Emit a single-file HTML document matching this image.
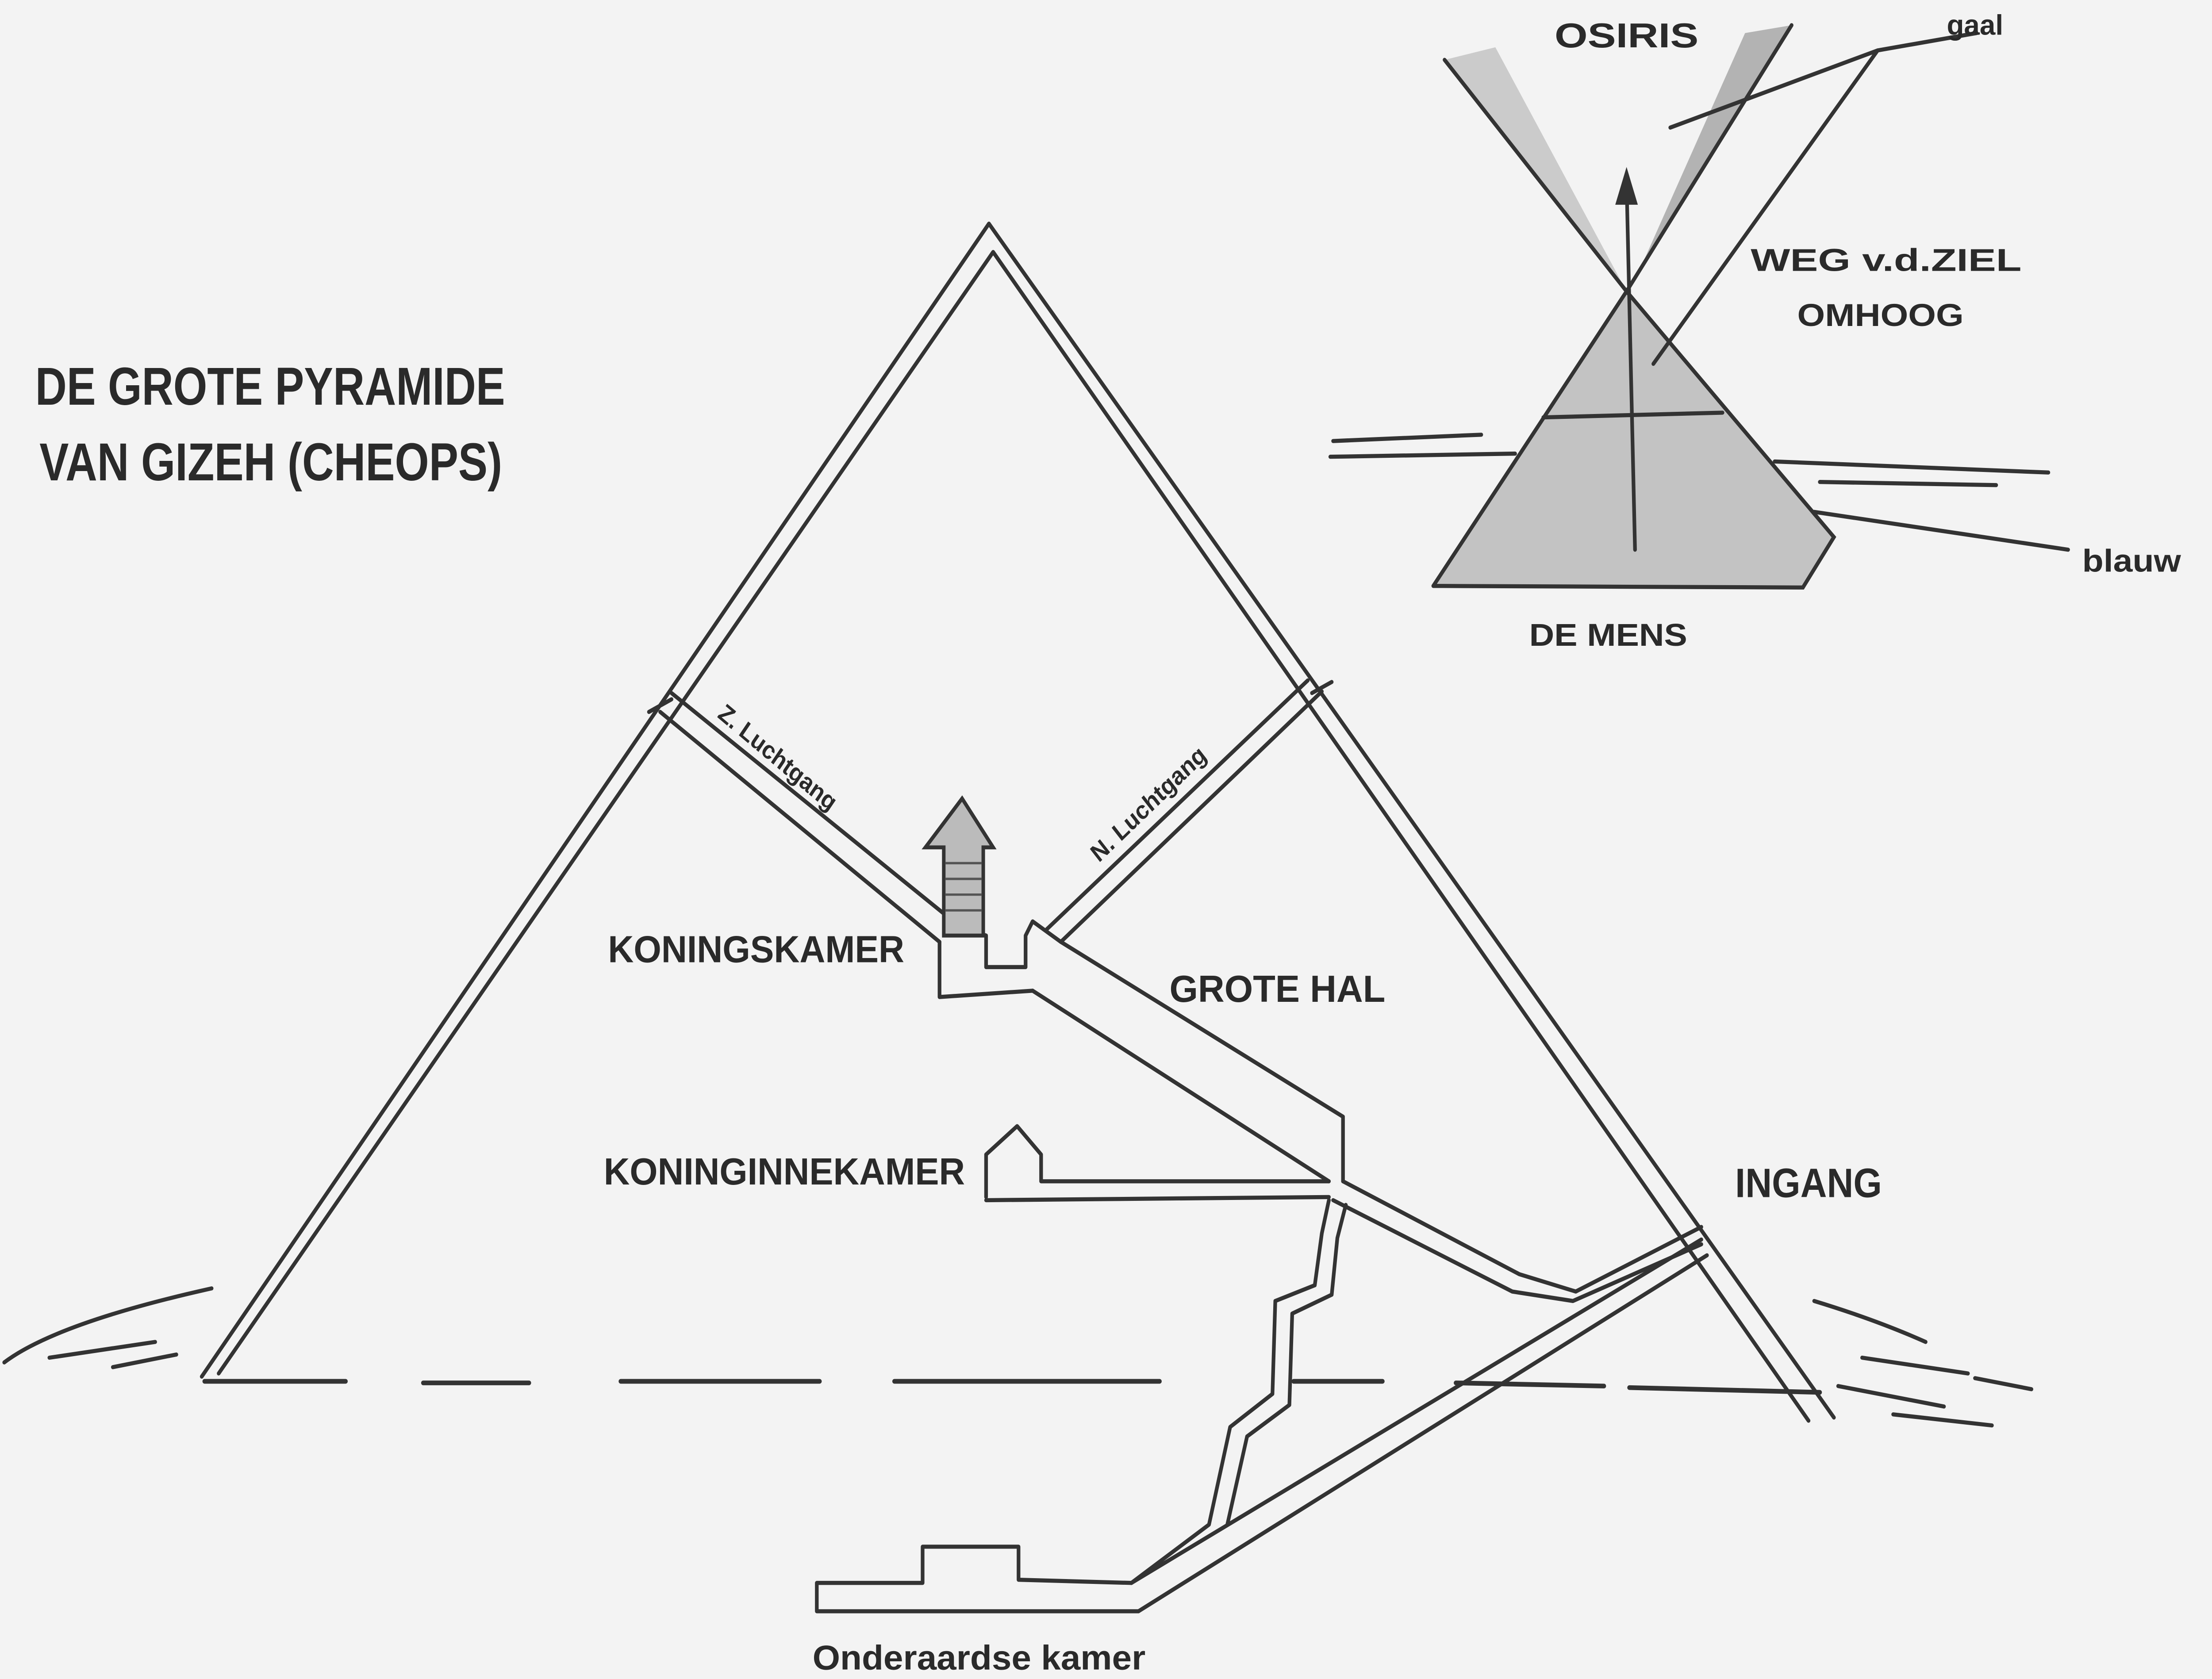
<!DOCTYPE html>
<html><head><meta charset="utf-8"><style>
html,body{margin:0;padding:0;background:#f3f3f3;width:100%;height:100%;overflow:hidden;}
svg{display:block;position:fixed;left:0;top:0;width:100vw;height:100vh;}
text{font-family:"Liberation Sans",sans-serif;fill:#2a2a2a;font-weight:bold;}
</style></head><body>
<svg viewBox="0 0 1568 1066" preserveAspectRatio="none" xmlns="http://www.w3.org/2000/svg">
<rect width="1568" height="1066" fill="#f3f3f3"/>
<g fill="none" stroke="#333" stroke-width="2.6" stroke-linecap="round" stroke-linejoin="round">
<polyline points="143,874 701,142 1300,900"/>
<polyline points="155,872 704,160 1282,902"/>
<path d="M460,452 L476,444"/>
<path d="M930,440 L944,433"/>
<g stroke-width="3">
<path d="M145,877 L245,877"/><path d="M300,878 L375,878"/><path d="M440,877 L581,877"/>
<path d="M634,877 L822,877"/><path d="M917,877 L980,877"/><path d="M1032,878 L1137,880"/>
<path d="M1155,881 L1290,884"/>
</g>
<path d="M468,452 L666,598"/>
<path d="M476,440 L680,588"/>
<path d="M937,439 L752,598"/>
<path d="M927,432 L742,590"/>
<polyline points="666,598 666,633 732,629"/>
<polyline points="680,588 699,594 699,614 727,614 727,594 732,585 752,598"/>
<path d="M732,629 L942,750"/>
<polyline points="752,598 952,709 952,750"/>
<polyline points="699,760 699,733 721,715 738,733 738,750 942,750"/>
<path d="M699,762 L942,760"/>
<polyline points="952,750 1077,809 1117,820 1206,779"/>
<polyline points="945,762 1072,820 1115,826 1206,790"/>
<path d="M1206,787 L802,1005"/>
<path d="M1210,797 L807,1023"/>
<polyline points="942,762 937,783 932,816 904,826 902,885 872,906 857,968 802,1005"/>
<polyline points="954,765 948,786 944,822 916,834 914,892 884,912 870,968"/>
<polyline points="802,1005 722,1003 722,982 654,982 654,1005 579,1005 579,1023 807,1023"/>
<path d="M3,865 Q40,840 150,818"/>
<path d="M35,862 L110,852"/><path d="M80,868 L125,860"/>
<path d="M1286,826 Q1330,838 1365,852"/><path d="M1320,862 L1395,872"/>
<path d="M1303,880 L1378,893"/><path d="M1342,898 L1412,905"/><path d="M1400,875 L1440,882"/>
</g>
<polygon points="682,507 656,538 669,538 669,594 697,594 697,538 704,538" fill="#bbb" stroke="#333" stroke-width="2.5"/>
<g stroke="#555" stroke-width="1.5">
<line x1="670" y1="548" x2="696" y2="548"/><line x1="670" y1="558" x2="696" y2="558"/>
<line x1="670" y1="568" x2="696" y2="568"/><line x1="670" y1="578" x2="696" y2="578"/>
</g>
<polygon points="1024,38 1060,30 1153,185" fill="#aaa" opacity="0.55"/>
<polygon points="1237,21 1270,16 1158,180" fill="#888" opacity="0.6"/>
<polygon points="1153,185 1016,372 1278,373 1300,341" fill="#9a9a9a" opacity="0.55"/>
<g stroke="#333" stroke-width="2.6" fill="none" stroke-linecap="round">
<polyline points="1016,372 1153,185 1300,341 1278,373 1016,372"/>
<path d="M1094,265 L1221,262"/>
<path d="M1024,38 L1153,185 L1270,16"/>
<path d="M943,290 L1074,288"/><path d="M945,280 L1050,276"/>
<path d="M1258,293 L1452,300"/><path d="M1290,306 L1415,308"/>
<path d="M1159,349 L1153,115"/>
<path d="M1286,325 L1466,349"/>
<path d="M1184,81 L1331,32 L1401,21"/>
<path d="M1331,32 L1172,231"/>
</g>
<polygon points="1153,106 1145,130 1161,130" fill="#333"/>
<text x="25" y="257" font-size="34" textLength="333" lengthAdjust="spacingAndGlyphs">DE GROTE PYRAMIDE</text>
<text x="28" y="305" font-size="34" textLength="328" lengthAdjust="spacingAndGlyphs">VAN GIZEH (CHEOPS)</text>
<text x="431" y="611" font-size="24" textLength="210" lengthAdjust="spacingAndGlyphs">KONINGSKAMER</text>
<text x="829" y="636" font-size="24" textLength="153" lengthAdjust="spacingAndGlyphs">GROTE HAL</text>
<text x="428" y="752" font-size="24" textLength="256" lengthAdjust="spacingAndGlyphs">KONINGINNEKAMER</text>
<text x="1230" y="760" font-size="26" textLength="104" lengthAdjust="spacingAndGlyphs">INGANG</text>
<text x="576" y="1060" font-size="22" textLength="236" lengthAdjust="spacingAndGlyphs">Onderaardse kamer</text>
<text x="1102" y="30" font-size="22" textLength="102" lengthAdjust="spacingAndGlyphs">OSIRIS</text>
<text x="1380" y="22" font-size="18" textLength="40" lengthAdjust="spacingAndGlyphs">gaal</text>
<text x="1241" y="172" font-size="20" textLength="192" lengthAdjust="spacingAndGlyphs">WEG v.d.ZIEL</text>
<text x="1274" y="207" font-size="20" textLength="118" lengthAdjust="spacingAndGlyphs">OMHOOG</text>
<text x="1084" y="410" font-size="20" textLength="112" lengthAdjust="spacingAndGlyphs">DE MENS</text>
<text x="1476" y="363" font-size="20" textLength="70" lengthAdjust="spacingAndGlyphs">blauw</text>
<text font-size="16" transform="translate(508,455) rotate(37)">Z. Luchtgang</text>
<text font-size="16" transform="translate(779,548) rotate(-41)">N. Luchtgang</text>
</svg>
</body></html>
